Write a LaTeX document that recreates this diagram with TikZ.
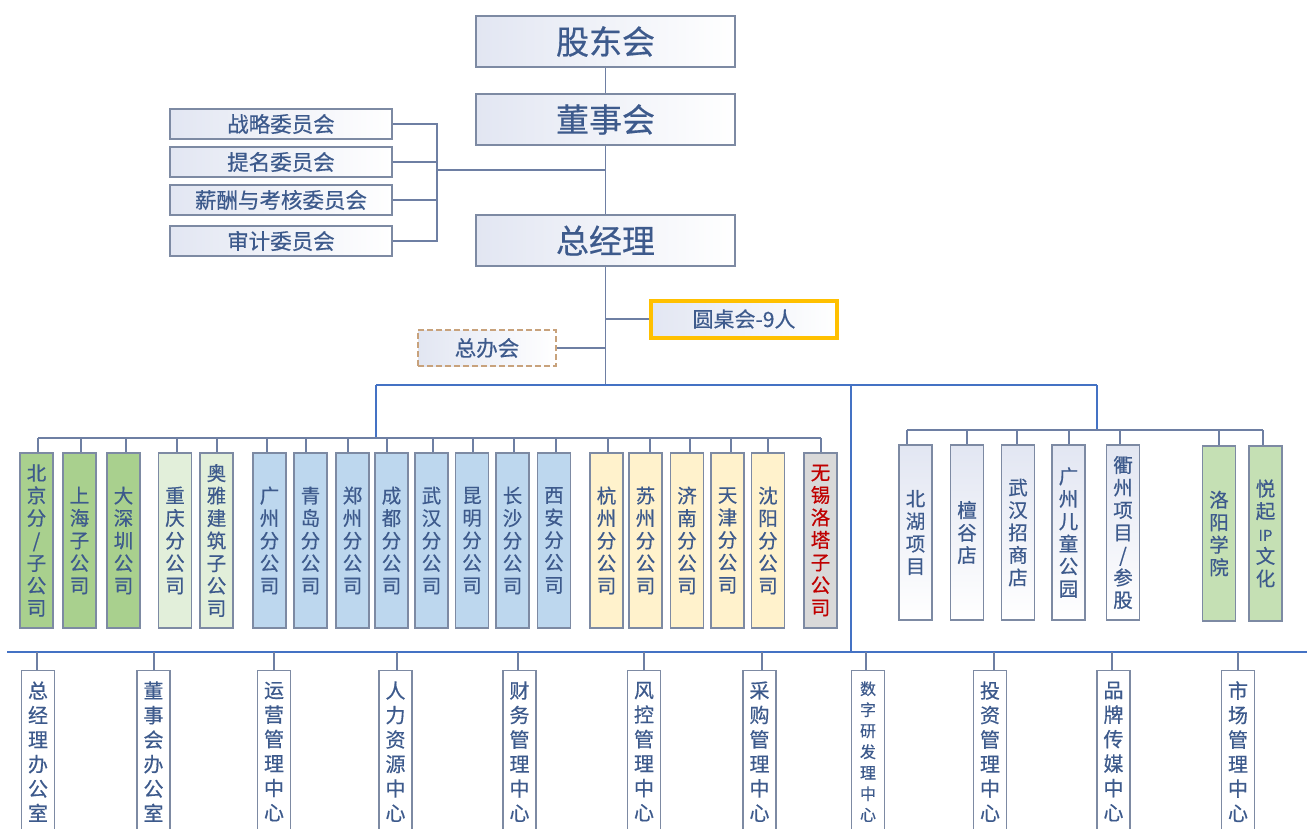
\documentclass[tikz,border=0pt]{standalone}
\usepackage{fontspec}
\setmainfont{Noto Sans CJK SC}[FakeBold=0.5]
\usepackage{tikz}

\definecolor{txtblue}{HTML}{3D5A8C}
\definecolor{boxgray}{HTML}{7D8AA3}
\definecolor{linegray}{HTML}{6E7FA3}
\definecolor{busblue}{HTML}{4472C4}
\definecolor{shadeL}{HTML}{E2E6F2}
\definecolor{grnD}{HTML}{A9D08E}
\definecolor{grnL}{HTML}{E2EFDA}
\definecolor{bluL}{HTML}{BDD7EE}
\definecolor{yelL}{HTML}{FFF2CC}
\definecolor{grayF}{HTML}{D9D9D9}
\definecolor{grnR}{HTML}{C5E0B4}
\definecolor{goldB}{HTML}{FFC000}
\definecolor{tanB}{HTML}{C8A27C}
\definecolor{redT}{HTML}{C00000}

\tikzset{
	orgbox/.style={draw=boxgray, line width=1.5pt, left color=shadeL, right color=white, text=txtblue},
	topbox/.style={orgbox, minimum width=259pt, minimum height=51pt, font=\fontsize{33}{38}\selectfont},
	cmtbox/.style={orgbox, minimum width=222pt, minimum height=30pt, font=\fontsize{21.5}{24}\selectfont},
	vbox/.style={draw=boxgray, line width=1.3pt, minimum width=33pt, minimum height=175pt, inner sep=0pt, align=center, text=txtblue, font=\fontsize{19.5}{22.5}\selectfont},
	wbox/.style={vbox, top color=shadeL, bottom color=white},
	dbox/.style={draw=boxgray, line width=1.2pt, fill=white, anchor=north, minimum width=33pt, minimum height=162pt, inner sep=0pt, align=center, text=txtblue, font=\fontsize{20}{24.5}\selectfont},
	link/.style={draw=linegray, line width=1.5pt},
	bus/.style={draw=busblue, line width=2.5pt},
}

\begin{document}
\begin{tikzpicture}[x=1pt, y=-1pt]
				\clip (0,0) rectangle (1307,828);
				\fill[white] (0,0) rectangle (1307,828);
				% top of the chart
				\node[topbox] (gd)at(605.5, 41.5) {股东会};
				\node[topbox] (ds)at(605.5, 119.5) {董事会};
				\node[topbox] (zjl)at(605.5, 240.5) {总经理};
				\coordinate (tk) at (605.5, 385);
				\draw[link] (gd.south -| tk) -- (ds.north -| tk);
				\draw[link] (ds.south -| tk) -- (zjl.north -| tk);
				\draw[link] (zjl.south -| tk) -- (tk);
				% committees
				\node[cmtbox] (c1)at(281, 124) {战略委员会};
				\node[cmtbox] (c2)at(281, 162) {提名委员会};
				\node[cmtbox] (c3)at(281, 200) {薪酬与考核委员会};
				\node[cmtbox] (c4)at(281, 241) {审计委员会};
				\coordinate (cb) at (437, 170);
				\draw[link] (c1.east) -| (cb) |- (c4.east);
				\draw[link] (c2.east) -- (c2.east -| cb);
				\draw[link] (c3.east) -- (c3.east -| cb);
				\draw[link] (cb) -- (cb -| tk);
				% round table and office meeting
				\node[draw=goldB, line width=4pt, left color=shadeL, right color=white, text=txtblue, minimum width=186pt, minimum height=37pt, font=\fontsize{21}{24}\selectfont] (yzh)at(744, 319) {圆桌会-9人};
				\node[draw=tanB, dashed, dash pattern=on 6pt off 3pt, line width=1.5pt, left color=shadeL, right color=white, text=txtblue, minimum width=138pt, minimum height=36pt, font=\fontsize{21.5}{24}\selectfont] (zbh)at(487, 348) {总办会};
				\draw[link] (yzh.west) -- (yzh.west -| tk);
				\draw[link] (zbh.east) -- (zbh.east -| tk);
				% main buses
				\coordinate (lb) at (376, 385);
				\coordinate (rb) at (1097, 385);
				\coordinate (mb) at (851, 385);
				\coordinate (lg) at (376, 438);
				\coordinate (rg) at (1097, 430);
				\coordinate (bb) at (851, 652);
				\draw[bus] (lb) -- (rb);
				\draw[bus, line width=2pt] (lb) -- (lg);
				\draw[bus, line width=2pt] (rb) -- (rg);
				\draw[bus] (mb) -- (bb);
				\draw[link] (38, 438) -- (821, 438);
				\draw[link] (907, 430) -- (1263, 430);
				\draw[bus] (7, 652) -- (1310, 652);
				% branches and subsidiaries
				\node[vbox, fill=grnD] (bj)at(36.5, 540.5) {北\\京\\分\\/\\子\\公\\司};
				\node[vbox, fill=grnD] (sh)at(79.5, 540.5) {上\\海\\子\\公\\司};
				\node[vbox, fill=grnD] (dsz)at(123.5, 540.5) {大\\深\\圳\\公\\司};
				\node[vbox, fill=grnL] (cq)at(175, 540.5) {重\\庆\\分\\公\\司};
				\node[vbox, fill=grnL] (ay)at(216.5, 540.5) {奥\\雅\\建\\筑\\子\\公\\司};
				\node[vbox, fill=bluL] (gz)at(269.5, 540.5) {广\\州\\分\\公\\司};
				\node[vbox, fill=bluL] (qd)at(310.5, 540.5) {青\\岛\\分\\公\\司};
				\node[vbox, fill=bluL] (zz)at(352.5, 540.5) {郑\\州\\分\\公\\司};
				\node[vbox, fill=bluL] (cd)at(391.5, 540.5) {成\\都\\分\\公\\司};
				\node[vbox, fill=bluL] (wh)at(431.5, 540.5) {武\\汉\\分\\公\\司};
				\node[vbox, fill=bluL] (km)at(472, 540.5) {昆\\明\\分\\公\\司};
				\node[vbox, fill=bluL] (cs)at(512.5, 540.5) {长\\沙\\分\\公\\司};
				\node[vbox, fill=bluL] (xa)at(554, 540.5) {西\\安\\分\\公\\司};
				\node[vbox, fill=yelL] (hz)at(606.5, 540.5) {杭\\州\\分\\公\\司};
				\node[vbox, fill=yelL] (suz)at(645.5, 540.5) {苏\\州\\分\\公\\司};
				\node[vbox, fill=yelL] (jn)at(687, 540.5) {济\\南\\分\\公\\司};
				\node[vbox, fill=yelL] (tj)at(727.5, 540.5) {天\\津\\分\\公\\司};
				\node[vbox, fill=yelL] (sy)at(768, 540.5) {沈\\阳\\分\\公\\司};
				\node[vbox, fill=grayF, text=redT] (wx)at(820.5, 540.5) {无\\锡\\洛\\塔\\子\\公\\司};
				\foreach \n/\x in {bj/38, sh/81, dsz/126, cq/177, ay/217, gz/267, qd/306, zz/348, cd/387, wh/433, km/473, cs/514, xa/556, hz/608, suz/650, jn/690, tj/731, sy/768, wx/821}
					\draw[link] (\x, 438) -- (\x, 438 |- \n.north);
				% projects
				\node[wbox] (bh)at(915.5, 532.5) {北\\湖\\项\\目};
				\node[wbox] (tg)at(967, 532.5) {檀\\谷\\店};
				\node[wbox] (whs)at(1018, 532.5) {武\\汉\\招\\商\\店};
				\node[wbox] (gzp)at(1068.5, 532.5) {广\\州\\儿\\童\\公\\园};
				\node[wbox] (qz)at(1123, 532.5) {衢\\州\\项\\目\\/\\参\\股};
				\node[vbox, fill=grnR] (ly)at(1219, 533.5) {洛\\阳\\学\\院};
				\node[vbox, fill=grnR] (yq)at(1265.5, 533.5) {悦\\起\\{\fontsize{15}{17}\selectfont IP}\\文\\化};
				\foreach \n/\x in {bh/907, tg/967, whs/1017, gzp/1069, qz/1120, ly/1219, yq/1263}
					\draw[link] (\x, 430) -- (\x, 430 |- \n.north);
				% functional centres
				\node[dbox] (zjb)at(38, 670) {总\\经\\理\\办\\公\\室};
				\node[dbox] (dsb)at(153.5, 670) {董\\事\\会\\办\\公\\室};
				\node[dbox] (yy)at(274, 670) {运\\营\\管\\理\\中\\心};
				\node[dbox] (rl)at(395.5, 670) {人\\力\\资\\源\\中\\心};
				\node[dbox] (cw)at(519.5, 670) {财\\务\\管\\理\\中\\心};
				\node[dbox] (fk)at(644, 670) {风\\控\\管\\理\\中\\心};
				\node[dbox] (cg)at(759.5, 670) {采\\购\\管\\理\\中\\心};
				\node[dbox, font=\fontsize{16}{21}\selectfont] (szy)at(868, 670) {数\\字\\研\\发\\理\\中\\心};
				\node[dbox] (tz)at(990, 670) {投\\资\\管\\理\\中\\心};
				\node[dbox] (pp)at(1113.5, 670) {品\\牌\\传\\媒\\中\\心};
				\node[dbox] (sc)at(1238, 670) {市\\场\\管\\理\\中\\心};
				\foreach \n/\x in {zjb/37, dsb/154, yy/274, rl/397, cw/518, fk/644, cg/762, szy/866, tz/994, pp/1112, sc/1238}
					\draw[link] (\x, 652) -- (\x, 652 |- \n.north);
			\end{tikzpicture}
\end{document}
